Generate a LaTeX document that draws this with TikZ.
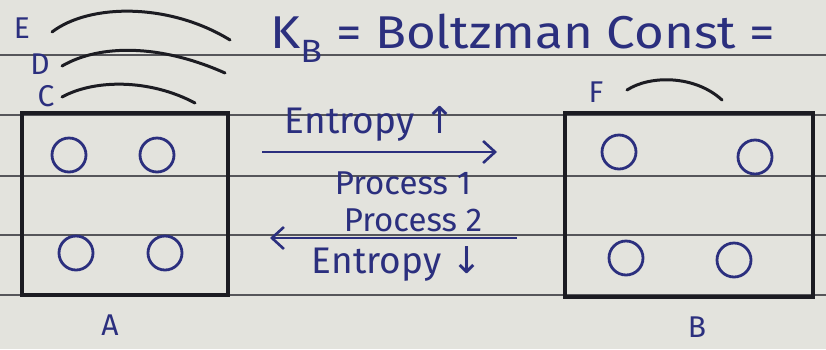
\documentclass[tikz,border=0pt]{standalone}
\usepackage{fontspec}
\setmainfont{Fira Sans}
\newfontfamily\symfont{DejaVu Sans}
\definecolor{paper}{HTML}{E3E3DD}
\definecolor{ink}{HTML}{2B2F7E}
\definecolor{pen}{HTML}{1C1C22}
\definecolor{rulec}{HTML}{56565A}
\tikzset{
  rule/.style={draw=rulec, line width=1.6pt},
  boxnode/.style={draw=pen, line width=3.6pt, inner sep=0pt},
  ball/.style={circle, draw=ink, line width=2.8pt, minimum size=34pt, inner sep=0pt},
  arcline/.style={draw=pen, line width=3pt, line cap=round},
  label/.style={text=ink, font=\fontsize{30}{32}\selectfont, inner sep=0pt},
  title/.style={text=ink, font=\fontsize{46}{50}\selectfont, inner sep=0pt, xscale=1.11, transform shape},
  arrtext/.style={text=ink, font=\fontsize{33}{36}\selectfont, inner sep=0pt},
  enttext/.style={text=ink, font=\fontsize{37}{40}\selectfont, inner sep=0pt},
  arr/.style={draw=ink, line width=2.6pt, -{Straight Barb[length=12pt,width=22pt,line width=2.6pt]}},
}
\usetikzlibrary{arrows.meta}
\begin{document}
\begin{tikzpicture}[x=1pt,y=-1pt]
\fill[paper] (0,0) rectangle (826,349);
\useasboundingbox (0,0) rectangle (826,349);
\foreach \yy in {55,115,176,235,295} \draw[rule] (0,\yy) -- (826,\yy);

% boxes
\node[boxnode, minimum width=206pt, minimum height=182pt] (boxA) at (125,204) {};
\node[boxnode, minimum width=248pt, minimum height=184pt] (boxB) at (689,205) {};

% balls in A
\node[ball] (a1) at (69,155) {};
\node[ball] (a2) at (157,155) {};
\node[ball] (a3) at (76,253) {};
\node[ball] (a4) at (165,253) {};
% balls in B
\node[ball] (b1) at (619,152) {};
\node[ball] (b2) at (755,157) {};
\node[ball] (b3) at (626,258) {};
\node[ball] (b4) at (734,260) {};

% box labels
\node[label] (labA) at (110,325) {A};
\node[label] (labB) at (697,327) {B};

% arc labels
\node[label] (labE) at (22,28) {E};
\node[label] (labD) at (40,64) {D};
\node[label] (labC) at (46,96) {C};
\node[label] (labF) at (596,92) {F};

% arcs
\coordinate (e1) at (52,32);  \coordinate (e2) at (230,40);
\coordinate (d1) at (62,66);  \coordinate (d2) at (225,73);
\coordinate (c1) at (62,97);  \coordinate (c2) at (195,103);
\coordinate (f1) at (627,90); \coordinate (f2) at (722,100);
\draw[arcline] (e1) .. controls (90,3) and (170,3) .. (e2);
\draw[arcline] (d1) .. controls (100,44) and (160,44) .. (d2);
\draw[arcline] (c1) .. controls (95,79) and (150,79) .. (c2);
\draw[arcline] (f1) .. controls (650,75) and (695,75) .. (f2);

% title
\node[title, anchor=west] (kb) at (270,38) {K\textsubscript{B} = Boltzman Const =};

% arrows
\coordinate (p1s) at (262,152); \coordinate (p1e) at (497,152);
\coordinate (p2s) at (517,238); \coordinate (p2e) at (270,238);
\draw[arr] (p1s) -- (p1e);
\draw[arr] (p2s) -- (p2e);
\node[enttext] (ent1) at (370,124) {Entropy {\symfont↑}};
\node[arrtext] (pr1) at (403,183) {Process 1};
\node[arrtext] (pr2) at (413,220) {Process 2};
\node[enttext] (ent2) at (397,264) {Entropy {\symfont↓}};
\end{tikzpicture}
\end{document}
